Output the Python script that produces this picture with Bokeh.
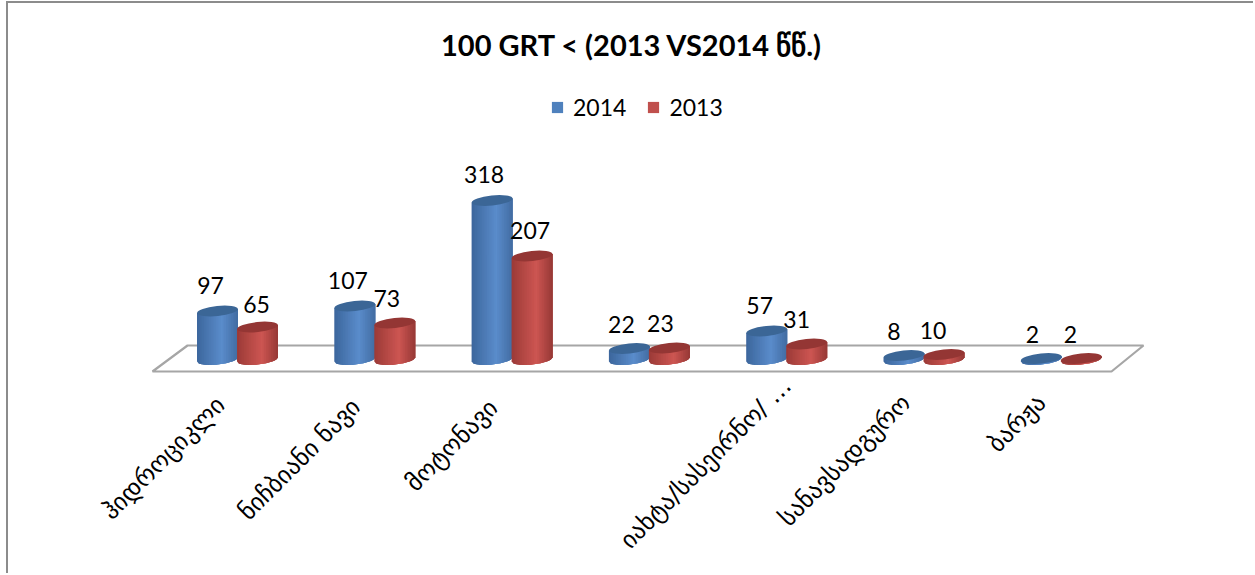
from math import atan, pi, sqrt
from bokeh.core.properties import value
from bokeh.embed import file_html
from bokeh.models import ColumnDataSource, Legend, LegendItem, Range1d
from bokeh.plotting import figure
from bokeh.resources import INLINE

# ---- data ----
title_text = "100 GRT < (2013 VS2014 წწ.)"
categories = ["ჰიდროციკლი", "ნიჩბიანი ნავი", "მოტონავი", "", "იახტა/სასეირნო/ …", "სანავსადგურო", "ბარჟა"]
series_2014 = [97, 107, 318, 22, 57, 8, 2]
series_2013 = [65, 73, 207, 23, 31, 10, 2]

# ---- layout (page pixels) ----
CANVAS_X, CANVAS_Y, CANVAS_W, CANVAS_H = 8, 3, 1247, 572
FRAME_TOP = 66
GROUP0_X, GROUP_STEP = 237.0, 137.3
ZERO_Y, PX_PER_UNIT = 359.0, 0.5
BAR_OFFSET, A, B, TILT = 20.0, 20.5, 5.0, 0.1
STRIPS = 24
BLUE = "#4f81bd"
RED = "#c0504d"
BLUE_CAP = "#3b6696"
RED_CAP = "#943634"
BLUE_SHADES = ((60, 102, 156), (90, 140, 203), (66, 108, 162))
RED_SHADES = ((155, 58, 55), (205, 86, 82), (150, 56, 53))
LABEL_END_DX = [-17, -19, -19, 0, 0, -18, -20]
LABEL_END_Y = [400, 402, 403, 400, 381, 398, 398]
VALUE_DX_2014 = [-7, -7, -8, -8, -7, -10, -9]
VALUE_DX_2013 = [-1, -8, -2, -9, -10, -11, -11]
VALUE_DY_2014 = [-26, -26, -26, -24.5, -25.5, -24.5, -24.5]
VALUE_DY_2013 = [-22.5, -24.5, -25.5, -24.5, -24.5, -24.5, -24.5]


def xd(px):
    return (px - GROUP0_X) / GROUP_STEP


def yd(px):
    return (ZERO_Y - px) / PX_PER_UNIT


p = figure(
    width=CANVAS_W, height=CANVAS_H, output_backend="svg", toolbar_location=None,
    x_range=Range1d(xd(CANVAS_X), xd(CANVAS_X + CANVAS_W)),
    y_range=Range1d(yd(CANVAS_Y + CANVAS_H), yd(FRAME_TOP)),
    x_axis_type=None, y_axis_type=None, outline_line_color=None,
    min_border_left=0, min_border_right=0, min_border_bottom=0,
    min_border_top=FRAME_TOP - CANVAS_Y,
    title=title_text,
)
p.styles = {"position": "absolute", "left": "6px", "top": "1px",
            "border-left": "2px solid #8c8c8c", "border-top": "2px solid #8c8c8c"}
p.xgrid.visible = False
p.ygrid.visible = False
p.title.align = "center"
p.title.text_font = "Lato"
p.title.text_font_style = "bold"
p.title.text_font_size = "29px"
p.title.text_color = "#000000"

# floor of the 3-D chart
FLOOR_PX = [(152, 371), (1111, 371), (1143, 345), (187, 345)]
p.patch([xd(a) for a, _ in FLOOR_PX], [yd(b) for _, b in FLOOR_PX],
        fill_color="#ffffff", line_color="#a6a6a6", line_width=2.2)


def mix(shades, u):
    left, mid, right = shades
    t = (u + 1) / 2
    if t < 0.6:
        f, c0, c1 = t / 0.6, left, mid
    else:
        f, c0, c1 = (t - 0.6) / 0.4, mid, right
    return "#%02x%02x%02x" % tuple(round(c0[i] + (c1[i] - c0[i]) * f) for i in range(3))


def bottom(u):
    return (-B * sqrt(max(0, 1 - u * u)) + TILT * A * u) / PX_PER_UNIT


def cylinder(values, offset, shades, cap_color):
    xs, ys, cols = [], [], []
    cx, cy = [], []
    for i, v in enumerate(values):
        center = i + offset / GROUP_STEP
        cx.append(center)
        cy.append(v)
        for s in range(STRIPS):
            # each strip runs on under the next ones, so no seams show between them
            us = [-1 + 2 * k / STRIPS for k in range(s, min(s + 3, STRIPS) + 1)]
            top = [v + TILT * A * u / PX_PER_UNIT for u in us]
            low = [bottom(u) for u in us]
            xs.append([center + A * u / GROUP_STEP for u in us + us[::-1]])
            ys.append(top + low[::-1])
            cols.append(mix(shades, us[0] + 1 / STRIPS))
    src = ColumnDataSource(dict(xs=xs, ys=ys, c=cols))
    p.patches("xs", "ys", source=src, fill_color="c", line_color=None)
    p.ellipse(cx, cy, width=2 * A, height=2 * B, width_units="screen", height_units="screen",
              angle=atan(TILT), fill_color=cap_color, line_color=None)


cylinder(series_2014, -BAR_OFFSET, BLUE_SHADES, BLUE_CAP)
cylinder(series_2013, BAR_OFFSET, RED_SHADES, RED_CAP)

# value labels
idx = list(range(len(categories)))
for vals, dxs, dys, off in ((series_2014, VALUE_DX_2014, VALUE_DY_2014, -BAR_OFFSET),
                            (series_2013, VALUE_DX_2013, VALUE_DY_2013, BAR_OFFSET)):
    src = ColumnDataSource(dict(x=[i + (off + d) / GROUP_STEP for i, d in zip(idx, dxs)], y=vals,
                                t=[str(v) for v in vals], dy=dys))
    p.text("x", "y", text="t", source=src, text_font=value("Lato"), text_font_size="23px",
           text_align="center", text_baseline="middle", text_color="#000000", y_offset="dy")

# category labels
src = ColumnDataSource(dict(x=[i + d / GROUP_STEP for i, d in zip(idx, LABEL_END_DX)],
                            y=[yd(py) for py in LABEL_END_Y], t=categories))
p.text("x", "y", text="t", source=src, angle=pi / 4, text_align="right", text_baseline="middle",
       text_font=value("DejaVu Sans"), text_font_size="24.5px", text_color="#000000")

# legend (zero-size quads only carry the swatch colours)
r14 = p.quad(left=[0], right=[0], top=[0], bottom=[0], fill_color=BLUE, line_color=None)
r13 = p.quad(left=[0], right=[0], top=[0], bottom=[0], fill_color=RED, line_color=None)
legend = Legend(items=[LegendItem(label="2014", renderers=[r14]), LegendItem(label="2013", renderers=[r13])],
                orientation="horizontal", location=(542, CANVAS_Y + CANVAS_H - 121),
                glyph_width=14, glyph_height=14, label_text_font="Lato", label_text_font_size="23px",
                label_text_color="#000000", border_line_color=None, background_fill_alpha=0,
                spacing=20, label_standoff=9, margin=0, padding=4)
p.add_layout(legend)

open("out.html", "w").write(file_html(p, INLINE))
